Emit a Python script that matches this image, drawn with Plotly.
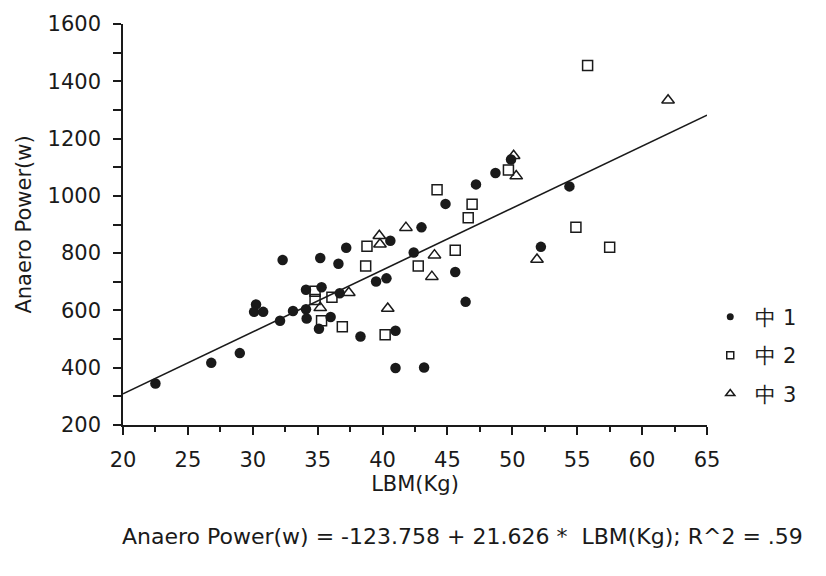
import plotly.graph_objects as go

# ---- data ----
g1_x = [22.5, 26.8, 29.0, 30.25, 30.1, 30.8, 32.1, 32.3, 33.1, 34.1, 34.1, 34.15, 35.2, 35.1,
        35.3, 36.0, 36.6, 36.7, 37.2, 38.3, 39.5, 40.3, 40.6, 41.0, 41.0, 43.2, 42.4, 43.0,
        45.6, 46.4, 44.85, 47.2, 48.7, 49.9, 54.4, 52.2]
g1_y = [345, 417, 451, 621, 595, 595, 564, 776, 598, 672, 604, 572, 783, 536,
        681, 577, 763, 660, 819, 509, 701, 712, 843, 529, 399, 401, 802, 890,
        734, 630, 972, 1040, 1080, 1127, 1033, 822]

g2_x = [34.8, 34.8, 35.3, 36.1, 36.9, 38.7, 38.8, 40.2, 42.75, 45.6, 44.2, 46.9, 46.6,
        49.7, 54.9, 55.8, 57.5]
g2_y = [667, 638, 564, 646, 543, 755, 824, 515, 755, 810, 1021, 971, 924,
        1090, 890, 1455, 821]

g3_x = [35.2, 37.4, 39.75, 39.8, 40.4, 41.8, 44.0, 43.8, 50.1, 50.3, 51.9, 62.0]
g3_y = [609, 662, 861, 831, 607, 889, 793, 718, 1140, 1069, 778, 1334]

group_names = ["中 1", "中 2", "中 3"]

intercept = -123.758
slope = 21.626
r2_text = ".59"
fit_x = [20, 65]
fit_y = [intercept + slope * v for v in fit_x]

x_ticks = [20, 25, 30, 35, 40, 45, 50, 55, 60, 65]
y_ticks = [200, 400, 600, 800, 1000, 1200, 1400, 1600]

FONT = "DejaVu Sans, Liberation Sans, Arial, sans-serif"
INK = "#1a1a1a"

fig = go.Figure()

fig.add_trace(go.Scatter(x=fit_x, y=fit_y, mode="lines",
                         line=dict(color=INK, width=1.6),
                         showlegend=False, hoverinfo="skip"))

styles = [
    dict(symbol="circle", size=10.5, color=INK),
    dict(symbol="square-open", size=10, color=INK, line=dict(width=1.5, color=INK)),
    dict(symbol="triangle-up-open", size=11, color=INK, line=dict(width=1.5, color=INK)),
]
legend_styles = [
    dict(symbol="circle", size=7, color=INK),
    dict(symbol="square-open", size=7, color=INK, line=dict(width=1.5, color=INK)),
    dict(symbol="triangle-up-open", size=8, color=INK, line=dict(width=1.5, color=INK)),
]
series = [(g1_x, g1_y), (g2_x, g2_y), (g3_x, g3_y)]
for i, ((xs, ys), name) in enumerate(zip(series, group_names)):
    fig.add_trace(go.Scatter(x=xs, y=ys, mode="markers", name=name,
                             legendgroup=f"g{i}", showlegend=False,
                             marker=styles[i]))
    # legend entry with the smaller legend symbol
    fig.add_trace(go.Scatter(x=[None], y=[None], mode="markers", name=name,
                             legendgroup=f"g{i}", showlegend=True,
                             marker=legend_styles[i], hoverinfo="skip"))

axis_common = dict(showline=True, linecolor=INK, linewidth=1.5, showgrid=False,
                   zeroline=False, ticks="outside", tickcolor=INK, tickwidth=1.5,
                   ticklen=8, tickfont=dict(family=FONT, size=21, color=INK))

fig.update_xaxes(range=[20, 65], tickvals=x_ticks, ticklabelstandoff=7,
                 minor=dict(dtick=2.5, ticks="outside", ticklen=5, tickcolor=INK, tickwidth=1.5),
                 title=dict(text="LBM(Kg)", font=dict(family=FONT, size=21, color=INK), standoff=2),
                 **axis_common)
fig.update_yaxes(range=[200, 1600], tickvals=y_ticks, ticklabelstandoff=8,
                 minor=dict(dtick=100, ticks="outside", ticklen=8, tickcolor=INK, tickwidth=1.5),
                 title=dict(text="Anaero Power(w)", font=dict(family=FONT, size=21, color=INK), standoff=10),
                 **axis_common)

fig.add_annotation(x=0.582, y=-0.277, xref="paper", yref="paper",
                   text=f"Anaero Power(w) = {intercept} + {slope} *  LBM(Kg); R^2 = {r2_text}",
                   showarrow=False, xanchor="center", yanchor="middle",
                   font=dict(family=FONT, size=22, color=INK))

fig.update_layout(
    width=826, height=576,
    margin=dict(l=123, r=119, t=17, b=151),
    paper_bgcolor="white", plot_bgcolor="white",
    font=dict(family=FONT, size=21, color=INK),
    legend=dict(x=0.997, y=0.32, xanchor="left", yanchor="top",
                font=dict(family=FONT, size=21, color=INK),
                tracegroupgap=8, itemwidth=40,
                bgcolor="rgba(0,0,0,0)"),
)

fig.write_html("out.html")
